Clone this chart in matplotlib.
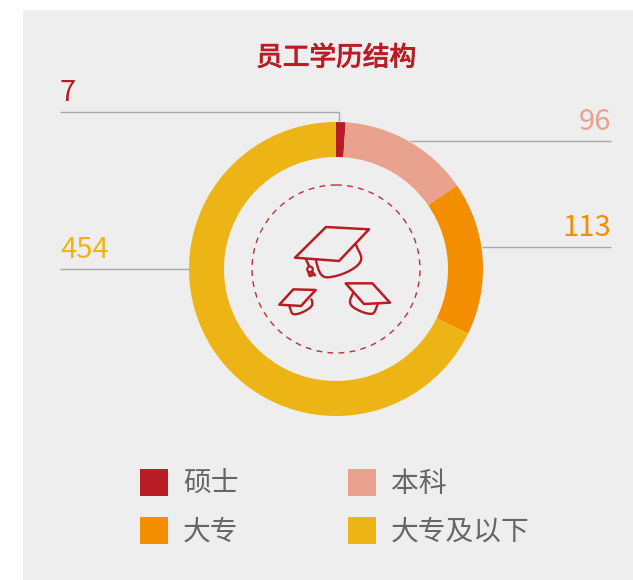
import matplotlib
matplotlib.use("Agg")
import matplotlib.pyplot as plt
import matplotlib.patheffects as pe
from matplotlib.patches import Rectangle, Circle, Polygon, PathPatch
from matplotlib.path import Path

W, H = 633, 580
FONT = ['Noto Sans CJK SC', 'DejaVu Sans']
plt.rcParams['font.family'] = FONT

title = "员工学历结构"
categories = ["硕士", "本科", "大专", "大专及以下"]
values = [7, 96, 113, 454]
colors = ["#b81c25", "#e9a28e", "#f28e00", "#edb416"]
GREY = "#eeeeee"
RED = "#b81c25"

fig = plt.figure(figsize=(W / 100, H / 100), dpi=100, facecolor="white")

# pixel-coordinate background
bg = fig.add_axes([0, 0, 1, 1], zorder=0)
bg.set_xlim(0, W); bg.set_ylim(H, 0); bg.axis("off")
bg.add_patch(Rectangle((23, 10), W - 23, H - 10, fc=GREY, ec="none"))

# donut
cx, cy, R, r = 336, 269, 147, 112
pie_ax = fig.add_axes([(cx - R) / W, 1 - (cy + R) / H, 2 * R / W, 2 * R / H], zorder=1)
pie_ax.pie(values, colors=colors, startangle=90, counterclock=False, radius=1,
           wedgeprops=dict(width=(R - r) / R, linewidth=0))
pie_ax.set_xlim(-1, 1); pie_ax.set_ylim(-1, 1); pie_ax.set_aspect("equal")
pie_ax.patch.set_alpha(0)

fg = fig.add_axes([0, 0, 1, 1], zorder=2)
fg.set_xlim(0, W); fg.set_ylim(H, 0); fg.axis("off"); fg.patch.set_alpha(0)

fg.text(336, 58, title, ha="center", va="center", fontsize=19.2, color=RED,
        path_effects=[pe.withStroke(linewidth=0.7, foreground=RED)])

# leader lines and value labels
LINE = "#a8a8a8"
leaders = [
    ([60, 339, 339], [112, 112, 122], 60, 101, "left"),
    ([611, 410], [141, 141], 611, 130, "right"),
    ([611, 482], [247, 247], 611, 236, "right"),
    ([60, 189], [269, 269], 60, 258, "left"),
]
for (xs, ys, tx, ty, ha), v, c in zip(leaders, values, colors):
    fg.plot(xs, ys, color=LINE, lw=1.0, solid_capstyle="butt", solid_joinstyle="miter")
    fg.text(tx, ty, str(v), ha=ha, va="baseline", fontsize=21, color=c, fontweight="light")

# dashed circle
fg.add_patch(Circle((cx, cy), 84, fc="none", ec=RED, lw=1.0, ls=(0, (4.2, 3.8)), alpha=0.9))

# graduation caps (drawn in crop coordinates of the icon)
def P(x, y):
    return (240 + x / 3, 170 + y / 3)

def cubic(points):
    pts = [P(*p) for p in points]
    codes = [Path.MOVETO] + [Path.CURVE4] * (len(pts) - 1)
    fg.add_patch(PathPatch(Path(pts, codes), fc="none", ec=RED, lw=1.7,
                           capstyle="round", joinstyle="round"))

def poly(points, closed=False):
    fg.add_patch(Polygon([P(*p) for p in points], closed=closed, fc="none", ec=RED, lw=1.8,
                         joinstyle="round", capstyle="round"))

poly([(258, 171), (387, 178), (297, 273), (165, 263)], True)
cubic([(348, 225), (358, 250), (372, 262), (358, 280),
       (345, 298), (300, 320), (262, 322),
       (240, 322), (235, 300), (228, 272)])
poly([(198, 268), (207, 288)])
fg.add_patch(Circle(P(210, 298), 2.8, fc="none", ec=RED, lw=1.6))
poly([(205, 306), (209, 318), (217, 316), (214, 306)])
poly([(216, 304), (225, 316)])

poly([(160, 358), (227, 360), (183, 408), (118, 404)], True)
cubic([(214, 388), (222, 405), (215, 412), (195, 423),
       (180, 431), (160, 438), (155, 428),
       (152, 420), (150, 414), (148, 407)])

poly([(317, 340), (397, 340), (450, 398), (372, 402)], True)
cubic([(340, 368), (332, 385), (322, 398), (340, 412),
       (355, 422), (380, 434), (398, 431),
       (405, 428), (408, 415), (413, 403)])

# legend
slots = [(140, 469, 183), (348, 469, 391), (140, 517, 183), (348, 517, 391)]
for (sx, sy, tx), name, c in zip(slots, categories, colors):
    fg.add_patch(Rectangle((sx, sy), 28, 27, fc=c, ec="none"))
    fg.text(tx, sy + 15, name, ha="left", va="center", fontsize=20, color="#666666",
            fontweight="light")

fig.savefig("out.png", dpi=100, facecolor="white")
